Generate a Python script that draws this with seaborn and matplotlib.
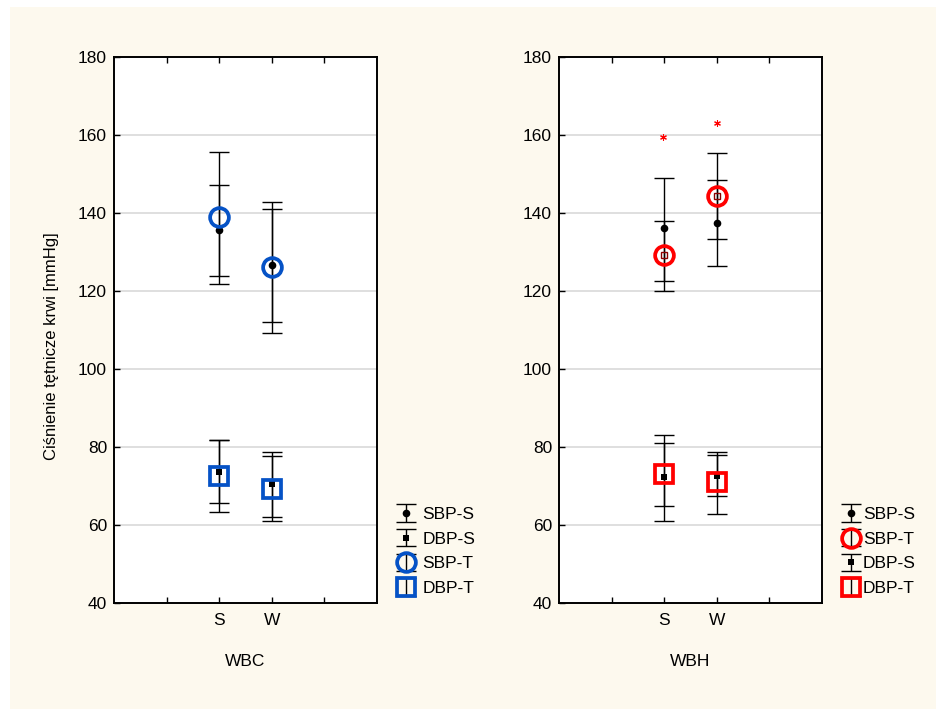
import numpy as np
import pandas as pd
import seaborn as sns
import matplotlib.pyplot as plt
from matplotlib.patches import Rectangle

# Categories
groups = ['S', 'W']
xpos = [2, 3]

# WBC panel (mean, lower, upper)
wbc_sbp_s = [135.6, 126.7]
wbc_sbp_s_lo = [123.9, 112.1]
wbc_sbp_s_hi = [147.2, 140.9]
wbc_sbp_t = [139.0, 126.2]
wbc_sbp_t_lo = [121.7, 109.3]
wbc_sbp_t_hi = [155.6, 142.9]
wbc_dbp_s = [73.7, 70.5]
wbc_dbp_s_lo = [65.7, 62.1]
wbc_dbp_s_hi = [81.8, 78.8]
wbc_dbp_t = [72.6, 69.2]
wbc_dbp_t_lo = [63.3, 61.0]
wbc_dbp_t_hi = [81.8, 77.7]

# WBH panel (mean, lower, upper)
wbh_sbp_s = [136.2, 137.5]
wbh_sbp_s_lo = [122.5, 126.5]
wbh_sbp_s_hi = [149.1, 148.5]
wbh_sbp_t = [129.3, 144.4]
wbh_sbp_t_lo = [120.1, 133.3]
wbh_sbp_t_hi = [137.9, 155.4]
wbh_dbp_s = [72.2, 72.6]
wbh_dbp_s_lo = [61.1, 67.4]
wbh_dbp_s_hi = [83.1, 78.0]
wbh_dbp_t = [73.0, 71.1]
wbh_dbp_t_lo = [64.9, 62.7]
wbh_dbp_t_hi = [81.0, 78.6]

# significance marks (WBH)
star_y = [159.4, 163.0]

sns.set_theme(style='ticks')
plt.rcParams['font.family'] = ['Liberation Sans', 'DejaVu Sans']
plt.rcParams['text.color'] = 'black'
plt.rcParams['axes.labelcolor'] = 'black'

BG = '#FDF9EE'
BLUE = '#0552C6'
RED = '#FF0000'

fig = plt.figure(figsize=(9.37, 7.09), dpi=100, facecolor='white')
fig.patches.append(Rectangle((10 / 937, 0), 1, 1 - 7 / 709, transform=fig.transFigure,
                             facecolor=BG, edgecolor='none', zorder=-10))

ax1 = fig.add_axes([114 / 937, 106 / 709, 263 / 937, 546 / 709])
ax2 = fig.add_axes([559 / 937, 106 / 709, 263 / 937, 546 / 709])


def bars(ax, mean, lo, hi, fmt, color, ms, mew, mfc, label, z):
    err = [np.array(mean) - np.array(lo), np.array(hi) - np.array(mean)]
    c = ax.errorbar(xpos, mean, yerr=err, fmt=fmt, color=color, ecolor='black',
                    elinewidth=1, capsize=7.5, capthick=1, ms=ms, mew=mew,
                    mfc=mfc, mec=color, label=label, zorder=z)
    for cap in c[1]:
        cap.set_markeredgewidth(1)
        cap.set_markeredgecolor('black')
    return c


def style(ax, xlabel):
    ax.set_facecolor('white')
    ax.set_xlim(0, 5)
    ax.set_ylim(40, 180)
    ax.set_xticks([1, 2, 3, 4])
    ax.set_xticklabels(['', 'S', 'W', ''])
    ax.set_yticks(np.arange(40, 181, 20))
    for y in range(60, 180, 20):
        ax.axhline(y, color='#D9D9D9', lw=1.2, zorder=0)
    ax.tick_params(direction='in', length=4, width=1, labelsize=12.5, colors='black',
                   top=True, pad=7)
    ax.tick_params(axis='y', pad=5)
    for s in ax.spines.values():
        s.set_visible(True)
        s.set_linewidth(1.4)
        s.set_color('black')
    ax.set_xlabel(xlabel, fontsize=12.5, labelpad=19)


leg_kw = dict(loc='lower left', frameon=False, fontsize=12.5, handlelength=1.3,
              labelspacing=0.55, borderaxespad=0)

# WBC
h1 = bars(ax1, wbc_sbp_s, wbc_sbp_s_lo, wbc_sbp_s_hi, 'o', 'black', 5.5, 0, 'black', 'SBP-S', 4)
h2 = bars(ax1, wbc_dbp_s, wbc_dbp_s_lo, wbc_dbp_s_hi, 's', 'black', 5, 0, 'black', 'DBP-S', 4)
h3 = bars(ax1, wbc_sbp_t, wbc_sbp_t_lo, wbc_sbp_t_hi, 'o', BLUE, 13.5, 2.7, 'none', 'SBP-T', 5)
h4 = bars(ax1, wbc_dbp_t, wbc_dbp_t_lo, wbc_dbp_t_hi, 's', BLUE, 13.5, 2.7, 'none', 'DBP-T', 5)
style(ax1, 'WBC')
ax1.set_ylabel('Ciśnienie tętnicze krwi [mmHg]', fontsize=12)
ax1.yaxis.set_label_coords(-0.21, 0.47)
ax1.legend(handles=[h1, h2, h3, h4], bbox_to_anchor=(1.04, 0.0), handletextpad=0.3, **leg_kw)

# WBH
g1 = bars(ax2, wbh_sbp_s, wbh_sbp_s_lo, wbh_sbp_s_hi, 'o', 'black', 5.5, 0, 'black', 'SBP-S', 4)
g2 = bars(ax2, wbh_sbp_t, wbh_sbp_t_lo, wbh_sbp_t_hi, 'o', RED, 13.5, 2.7, 'none', 'SBP-T', 5)
g3 = bars(ax2, wbh_dbp_s, wbh_dbp_s_lo, wbh_dbp_s_hi, 's', 'black', 5, 0, 'black', 'DBP-S', 4)
g4 = bars(ax2, wbh_dbp_t, wbh_dbp_t_lo, wbh_dbp_t_hi, 's', RED, 13.5, 2.7, 'none', 'DBP-T', 5)
ax2.plot(xpos, wbh_sbp_t, ls='none', marker='s', ms=5, mfc='none', mec='#8B0000',
         mew=1, zorder=6)
stars = pd.DataFrame({'x': [1.97, 3.0], 'y': star_y})
sns.scatterplot(data=stars, x='x', y='y', marker=(6, 2, 0), s=18, color=RED,
                linewidth=0.8, ax=ax2, zorder=6)
style(ax2, 'WBH')
ax2.set_ylabel('')
ax2.legend(handles=[g1, g2, g3, g4], bbox_to_anchor=(1.04, 0.0), handletextpad=0.05, **leg_kw)

fig.savefig('out.png', dpi=100, facecolor=fig.get_facecolor())
